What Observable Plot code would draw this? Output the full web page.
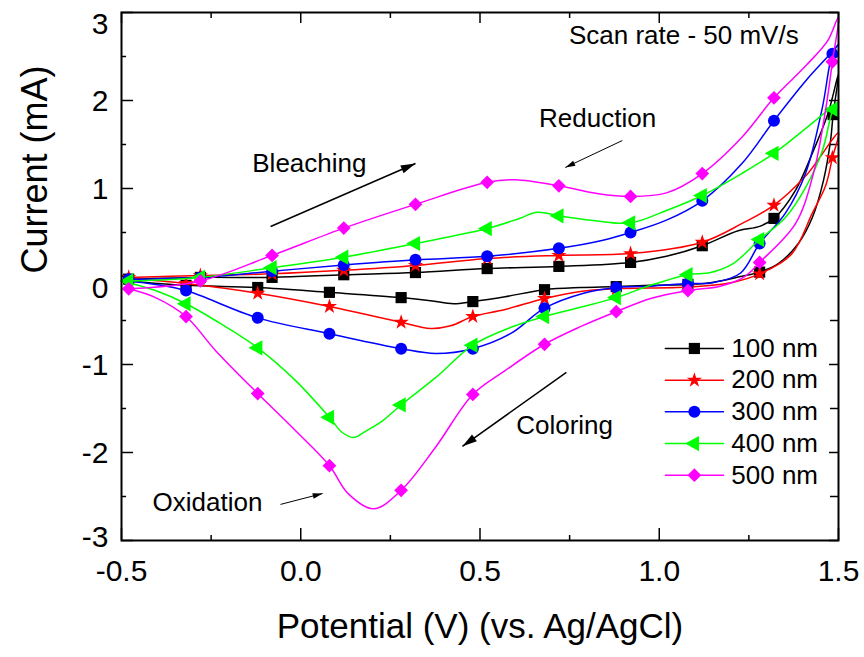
<!DOCTYPE html>
<html>
<head>
<meta charset="utf-8">
<script src="https://cdn.jsdelivr.net/npm/d3@7"></script>
<script src="https://cdn.jsdelivr.net/npm/@observablehq/plot@0.6"></script>
<style>
  body { margin: 0; background: #fff; }
  #chart svg { display: block; }
</style>
</head>
<body>
<div id="chart"></div>
<script>
// ---- data: cyclic voltammograms, each row [potential V, current mA, marker?] ----
const seriesNames = ["100 nm", "200 nm", "300 nm", "400 nm", "500 nm"];

const s100 = [
  [-0.48,-0.03,1],[-0.28,-0.01,1],[-0.08,-0.01,1],[0.12,0.02,1],[0.32,0.045,1],[0.52,0.09,1],
  [0.72,0.115,1],[0.92,0.16,1],[1.02,0.23,0],[1.12,0.35,1],[1.22,0.52,0],[1.28,0.57,0],
  [1.32,0.66,1],[1.38,0.98,0],[1.43,1.43,0],[1.472,1.87,0],[1.50,2.30,0],
  [1.485,1.84,1],[1.478,1.55,0],[1.458,1.09,0],[1.427,0.67,0],[1.388,0.375,0],[1.333,0.15,0],
  [1.28,0.05,1],[1.227,0.0,0],[1.143,-0.07,0],[1.08,-0.09,1],[0.976,-0.10,0],[0.88,-0.115,1],
  [0.78,-0.125,0],[0.68,-0.15,1],[0.57,-0.23,0],[0.48,-0.285,1],[0.426,-0.31,0],[0.362,-0.275,0],
  [0.28,-0.24,1],[0.08,-0.18,1],[-0.12,-0.125,1],[-0.32,-0.10,1],[-0.48,-0.05,0]
];
const s200 = [
  [-0.48,-0.01,1],[-0.28,0.01,1],[-0.08,0.03,1],[0.12,0.07,1],[0.32,0.125,1],[0.52,0.205,1],
  [0.72,0.24,1],[0.92,0.26,1],[1.12,0.39,1],[1.23,0.60,0],[1.32,0.81,1],[1.41,1.15,0],[1.50,1.63,0],
  [1.483,1.35,1],[1.464,1.03,0],[1.427,0.72,0],[1.37,0.26,0],[1.28,0.03,1],[1.20,-0.07,0],
  [1.08,-0.12,1],[0.88,-0.14,1],[0.78,-0.17,0],[0.68,-0.25,1],[0.57,-0.375,0],[0.48,-0.455,1],
  [0.418,-0.56,0],[0.362,-0.59,0],[0.28,-0.52,1],[0.18,-0.43,0],[0.08,-0.34,1],[-0.12,-0.19,1],
  [-0.32,-0.08,1],[-0.48,-0.02,0]
];
const s300 = [
  [-0.48,-0.03,1],[-0.28,-0.01,1],[-0.08,0.06,1],[0.12,0.13,1],[0.32,0.19,1],[0.52,0.23,1],
  [0.72,0.32,1],[0.84,0.41,0],[0.92,0.50,1],[1.02,0.64,0],[1.12,0.86,1],[1.23,1.28,0],
  [1.32,1.77,1],[1.41,2.23,0],[1.47,2.50,0],[1.50,2.64,0],
  [1.483,2.53,1],[1.455,1.92,0],[1.408,1.17,0],[1.352,0.72,0],[1.28,0.375,1],[1.227,0.04,0],
  [1.15,-0.07,0],[1.08,-0.08,1],[0.976,-0.11,0],[0.88,-0.125,1],[0.789,-0.19,0],[0.68,-0.36,1],
  [0.585,-0.65,0],[0.48,-0.82,1],[0.376,-0.875,0],[0.28,-0.82,1],[0.08,-0.65,1],[-0.12,-0.47,1],
  [-0.32,-0.16,1],[-0.405,-0.09,0],[-0.48,-0.05,0]
];
const s400 = [
  [-0.48,-0.05,1],[-0.28,-0.01,1],[-0.08,0.10,1],[0.12,0.22,1],[0.32,0.375,1],[0.52,0.545,1],
  [0.61,0.66,0],[0.66,0.73,0],[0.72,0.69,1],[0.81,0.64,0],[0.92,0.61,1],[1.02,0.75,0],
  [1.12,0.92,1],[1.23,1.17,0],[1.32,1.40,1],[1.42,1.72,0],[1.50,1.98,0],
  [1.485,1.90,1],[1.455,1.43,0],[1.408,1.01,0],[1.352,0.67,0],[1.28,0.42,1],[1.207,0.15,0],
  [1.143,0.045,0],[1.08,0.02,1],[0.976,-0.10,0],[0.88,-0.24,1],[0.78,-0.35,0],[0.68,-0.455,1],
  [0.585,-0.58,0],[0.48,-0.78,1],[0.376,-1.15,0],[0.28,-1.46,1],[0.228,-1.64,0],[0.18,-1.76,0],
  [0.147,-1.83,0],[0.115,-1.77,0],[0.08,-1.60,1],[-0.015,-1.18,0],[-0.12,-0.81,1],[-0.238,-0.50,0],
  [-0.32,-0.31,1],[-0.405,-0.16,0],[-0.48,-0.07,0]
];
const s500 = [
  [-0.48,-0.14,1],[-0.28,-0.05,1],[-0.08,0.24,1],[0.12,0.55,1],[0.32,0.82,1],[0.52,1.07,1],
  [0.60,1.10,0],[0.72,1.03,1],[0.83,0.94,0],[0.92,0.91,1],[1.02,0.95,0],[1.12,1.17,1],
  [1.23,1.58,0],[1.32,2.03,1],[1.41,2.40,0],[1.47,2.68,0],[1.50,2.95,0],
  [1.483,2.44,1],[1.465,1.92,0],[1.43,1.17,0],[1.38,0.60,0],[1.28,0.16,1],[1.235,-0.01,0],
  [1.17,-0.11,0],[1.08,-0.16,1],[0.976,-0.25,0],[0.88,-0.40,1],[0.78,-0.57,0],[0.68,-0.77,1],
  [0.57,-1.07,0],[0.48,-1.34,1],[0.376,-1.94,0],[0.28,-2.43,1],[0.203,-2.64,0],[0.133,-2.47,0],
  [0.08,-2.15,1],[-0.015,-1.75,0],[-0.12,-1.33,1],[-0.238,-0.84,0],[-0.32,-0.455,1],
  [-0.405,-0.24,0],[-0.48,-0.14,0]
];

const xMajor = [-0.5, 0, 0.5, 1.0, 1.5];
const xMinor = [-0.25, 0.25, 0.75, 1.25];
const xTickLabels = ["-0.5", "0.0", "0.5", "1.0", "1.5"];
const yMajor = [3, 2, 1, 0, -1, -2, -3];
const yMinor = [2.5, 1.5, 0.5, -0.5, -1.5, -2.5];
const yTickLabels = ["3", "2", "1", "0", "-1", "-2", "-3"];

const xTitle = "Potential (V) (vs. Ag/AgCl)";
const yTitle = "Current (mA)";
const annotations = ["Scan rate - 50 mV/s", "Reduction", "Bleaching", "Coloring", "Oxidation"];

// ---- layout / style ----
const W = 864, H = 657;
const mL = 121, mR = 26, mT = 12, mB = 117;
const pw = W - mL - mR, ph = H - mT - mB;
const xDom = [-0.5, 1.5], yDom = [-3, 3];
const kx = pw / (xDom[1] - xDom[0]), ky = ph / (yDom[1] - yDom[0]);
const FONT = "'Liberation Sans', Arial, Helvetica, sans-serif";

const triLeft = {
  draw(ctx, size) {
    const w = Math.sqrt(size / 0.55), h = 1.1 * w;
    ctx.moveTo(-2 * w / 3, 0); ctx.lineTo(w / 3, -h / 2); ctx.lineTo(w / 3, h / 2); ctx.closePath();
  }
};
const headSym = {
  draw(ctx, size) {
    const s = Math.sqrt(size), L = s * 1.6, w = s * 0.9;
    ctx.moveTo(0, 0); ctx.lineTo(-w / 2, L); ctx.lineTo(w / 2, L); ctx.closePath();
  }
};

const styles = [
  {color: "#000000", symbol: "square", r: 6.3},
  {color: "#ff0000", symbol: "star", r: 4.8},
  {color: "#0000ff", symbol: "circle", r: 6.0},
  {color: "#00ff00", symbol: triLeft, r: 5.8},
  {color: "#ff00ff", symbol: "diamond2", r: 6.2}
];
const seriesData = [s100, s200, s300, s400, s500];
const series = seriesData.map((arr, i) => ({
  name: seriesNames[i],
  rows: arr.map(([x, y, m]) => ({x, y, m})),
  ...styles[i]
}));

// annotation placements (data coords)
const annPos = [
  {x: 0.748, y: 2.74, anchor: "start"},
  {x: 0.828, y: 1.795, anchor: "middle"},
  {x: 0.024, y: 1.284, anchor: "middle"},
  {x: 0.736, y: -1.693, anchor: "middle"},
  {x: -0.26, y: -2.568, anchor: "middle"}
];
const arrows = [
  {x1: -0.084, y1: 0.568, x2: 0.32, y2: 1.284, sw: 1.5, r: 5.2},
  {x1: 0.897, y1: 1.545, x2: 0.738, y2: 1.239, sw: 1, r: 3.5},
  {x1: 0.741, y1: -1.09, x2: 0.451, y2: -1.93, sw: 1.5, r: 5.2},
  {x1: -0.0565, y1: -2.59, x2: 0.061, y2: -2.466, sw: 1, r: 3.5}
].map(a => ({...a, angle: Math.atan2((a.x2 - a.x1) * kx, (a.y2 - a.y1) * ky) * 180 / Math.PI}));

// legend placement
const legX0 = 1.017, legX1 = 1.179, legXT = 1.201, legY0 = -0.818, legStep = -0.36;
const legend = series.map((s, i) => ({...s, ly: legY0 + i * legStep}));

const marks = [];
// frame ticks (inward)
marks.push(
  Plot.tickX(xMajor, {x: d => d, insetTop: ph - 12, strokeWidth: 1.5}),
  Plot.tickX(xMinor, {x: d => d, insetTop: ph - 5, strokeWidth: 1.5}),
  Plot.tickX(xMajor, {x: d => d, insetBottom: ph - 11, strokeWidth: 1.5}),
  Plot.tickX(xMinor, {x: d => d, insetBottom: ph - 6, strokeWidth: 1.5}),
  Plot.tickY(yMajor, {y: d => d, insetRight: pw - 12, strokeWidth: 1.5}),
  Plot.tickY(yMinor, {y: d => d, insetRight: pw - 5, strokeWidth: 1.5}),
  Plot.tickY(yMajor, {y: d => d, insetLeft: pw - 9, strokeWidth: 1.5}),
  Plot.tickY(yMinor, {y: d => d, insetLeft: pw - 8, strokeWidth: 1.5})
);
// tick labels
const yLabelShift = {3: 12, 0: 12, "-3": -3};
marks.push(
  Plot.text(xMajor, {x: d => d, frameAnchor: "bottom", dy: 40, text: (d, i) => xTickLabels[i], fontSize: 30, fill: "#000"}),
  ...yMajor.map((v, i) => Plot.text([v], {y: d => d, frameAnchor: "left", dx: -13, dy: yLabelShift[v] ?? 1, textAnchor: "end", text: () => yTickLabels[i], fontSize: 30, fill: "#000"})),
  Plot.text([xTitle], {frameAnchor: "bottom", dy: 97, fontSize: 35, fill: "#000"}),
  Plot.text([yTitle], {frameAnchor: "left", dx: -86, dy: -3, rotate: -90, fontSize: 36, fill: "#000"})
);
// curves
for (const s of series) {
  marks.push(
    Plot.line(s.rows, {x: "x", y: "y", stroke: s.color, strokeWidth: 1.5, curve: "catmull-rom"}),
    Plot.dot(s.rows.filter(d => d.m), {x: "x", y: "y", symbol: s.symbol, r: s.r, fill: s.color, stroke: "none"})
  );
}
// annotations
annotations.forEach((t, i) => {
  const p = annPos[i];
  marks.push(Plot.text([t], {x: () => p.x, y: () => p.y, text: d => d, textAnchor: p.anchor, fontSize: 26, fill: "#000"}));
});
marks.push(
  Plot.link(arrows, {x1: "x1", y1: "y1", x2: "x2", y2: "y2", stroke: "#000", strokeWidth: "sw"}),
  ...arrows.map(a => Plot.dot([a], {x: "x2", y: "y2", symbol: headSym, r: a.r, rotate: "angle", fill: "#000", stroke: "none"}))
);
// legend
for (const s of legend) {
  marks.push(
    Plot.line([{x: legX0, y: s.ly}, {x: legX1, y: s.ly}], {x: "x", y: "y", stroke: s.color, strokeWidth: 1.5}),
    Plot.dot([{x: (legX0 + legX1) / 2, y: s.ly}], {x: "x", y: "y", symbol: s.symbol, r: s.r, fill: s.color, stroke: "none"}),
    Plot.text([s], {x: () => legXT, y: () => s.ly, text: d => d.name, textAnchor: "start", fontSize: 26, fill: "#000"})
  );
}
marks.push(Plot.frame({stroke: "#000", strokeWidth: 2}));

const chart = Plot.plot({
  width: W, height: H,
  marginLeft: mL, marginRight: mR, marginTop: mT, marginBottom: mB,
  x: {domain: xDom, axis: null},
  y: {domain: yDom, axis: null},
  style: {fontFamily: FONT, background: "#fff", color: "#000", overflow: "visible"},
  marks
});
document.getElementById("chart").appendChild(chart);
</script>
</body>
</html>
